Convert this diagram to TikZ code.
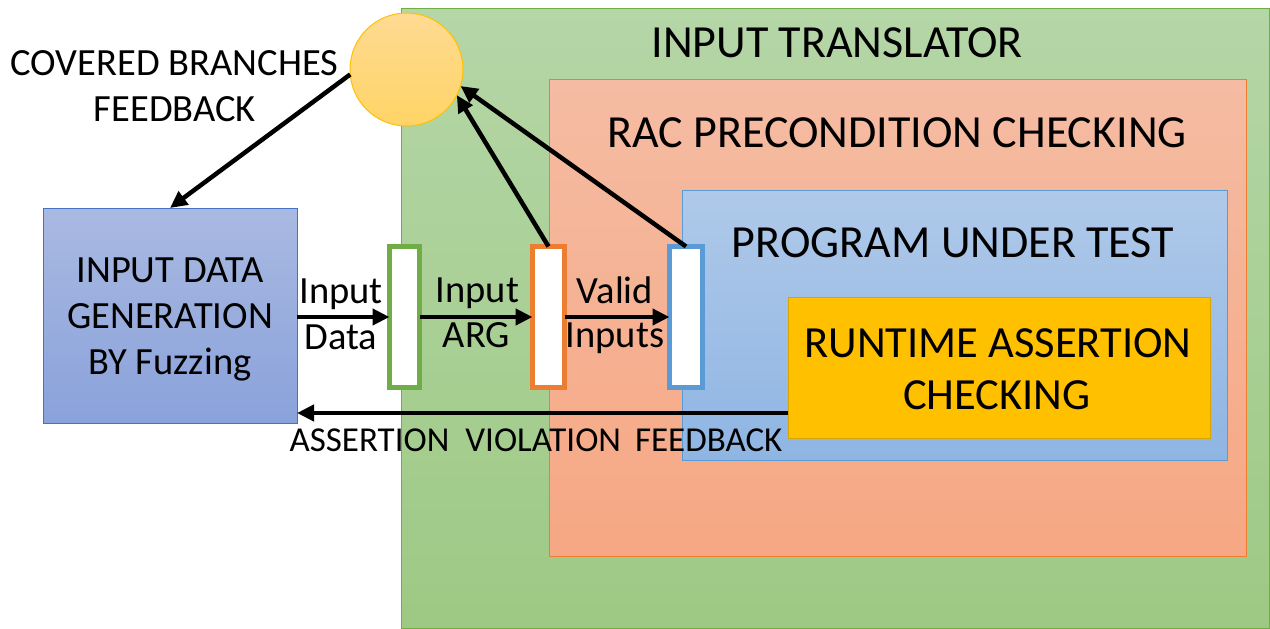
\documentclass[tikz,border=0pt]{standalone}
\usepackage{fontspec}
\setmainfont{Carlito}
\usetikzlibrary{arrows.meta}

\definecolor{transTop}{HTML}{B5D6A7}
\definecolor{transBot}{HTML}{9DC984}
\definecolor{transLine}{HTML}{70AD47}
\definecolor{preTop}{HTML}{F5BCA3}
\definecolor{preBot}{HTML}{F6A783}
\definecolor{preLine}{HTML}{ED7D31}
\definecolor{putTop}{HTML}{AFC9E9}
\definecolor{putBot}{HTML}{8FB5E3}
\definecolor{putLine}{HTML}{5B9BD5}
\definecolor{racFill}{HTML}{FFC000}
\definecolor{racLine}{HTML}{D9A300}
\definecolor{genTop}{HTML}{A9B9E1}
\definecolor{genBot}{HTML}{8AA2DB}
\definecolor{genLine}{HTML}{4472C4}
\definecolor{covTop}{HTML}{FFDA92}
\definecolor{covBot}{HTML}{FFD466}
\definecolor{covLine}{HTML}{FFC000}

\begin{document}
\begin{tikzpicture}[x=1pt,y=-1pt,
  box/.style={draw, line width=1pt, rectangle, inner sep=0pt, outer sep=0pt},
  bar/.style={draw, fill=white, line width=5pt, rectangle, inner sep=0pt, outer sep=0pt,
              minimum height=141pt},
  flow/.style={line width=4.5pt, -{Triangle[length=17pt,width=16pt]}},
  big/.style={font=\fontsize{46}{52}\selectfont, inner sep=0pt, anchor=base},
  inner/.style={font=\fontsize{44.5}{50}\selectfont, inner sep=0pt, anchor=base},
  mid/.style={font=\fontsize{38.5}{44}\selectfont, inner sep=0pt, anchor=base},
  small/.style={font=\fontsize{35}{40}\selectfont, inner sep=0pt, anchor=base},
]
\useasboundingbox (0,0) rectangle (1270,629);

% nested containers
\node[box, draw=transLine, top color=transTop, bottom color=transBot,
      minimum width=868pt, minimum height=620pt] (trans) at (835.5,318) {};
\node[box, draw=preLine, top color=preTop, bottom color=preBot,
      minimum width=697pt, minimum height=477pt] (pre) at (897.5,317.5) {};
\node[box, draw=putLine, top color=putTop, bottom color=putBot,
      minimum width=545pt, minimum height=270pt] (put) at (954.5,325) {};
\node[box, draw=racLine, fill=racFill,
      minimum width=422pt, minimum height=141pt] (rac) at (999,367.5) {};

% generator and coverage node
\node[box, draw=genLine, top color=genTop, bottom color=genBot,
      minimum width=254pt, minimum height=215pt] (gen) at (170,315.5) {};
\node[circle, draw=covLine, line width=1pt, top color=covTop, bottom color=covBot,
      minimum size=113pt, inner sep=0pt, outer sep=0pt] (cov) at (406.5,69.5) {};

% interface bars
\node[bar, draw=transLine, minimum width=30pt] (gbar) at (404.5,317) {};
\node[bar, draw=preLine, minimum width=32pt] (obar) at (548.5,317) {};
\node[bar, draw=putLine, minimum width=33pt] (bbar) at (686,317) {};

% titles
\node[big] (tTrans) at (837,57) {INPUT TRANSLATOR};
\node[big] (tPre) at (897,147) {RAC PRECONDITION CHECKING};
\node[big] (tPut) at (953,257) {PROGRAM UNDER TEST};
\node[inner] (tRac1) at (998,357) {RUNTIME ASSERTION};
\node[inner] (tRac2) at (997,409) {CHECKING};

\node[mid] (tGen1) at (170,282) {INPUT DATA};
\node[mid] (tGen2) at (170,328) {GENERATION};
\node[mid] (tGen3) at (170,374) {BY Fuzzing};

\node[mid] (tCov1) at (174.5,75) {COVERED BRANCHES};
\node[mid] (tCov2) at (175,121) {FEEDBACK};

% connector labels
\node[mid] (lData1) at (341,303) {Input};
\node[mid] (lData2) at (341,349) {Data};
\node[mid] (lArg1) at (477.5,302) {Input};
\node[mid] (lArg2) at (476.5,347) {ARG};
\node[mid] (lVal1) at (615,303) {Valid};
\node[mid] (lVal2) at (615,347) {Inputs};
\node[small] (lFb) at (536,451) {ASSERTION\hspace{16pt}VIOLATION\hspace{14pt}FEEDBACK};

% data flow
\draw[flow] (gen.east |- gbar.west) -- (gbar.west);
\draw[flow] (gbar.east) -- (obar.west);
\draw[flow] (obar.east) -- (bbar.west);

\coordinate (fbY) at (0,413);
\draw[flow] (rac.west |- fbY) -- (gen.east |- fbY);

% coverage feedback
\draw[flow] (obar.north) -- (cov.333);
\draw[flow] (bbar.north) -- (cov.343);
\draw[flow] (cov.185) -- (gen.north);
\end{tikzpicture}
\end{document}
